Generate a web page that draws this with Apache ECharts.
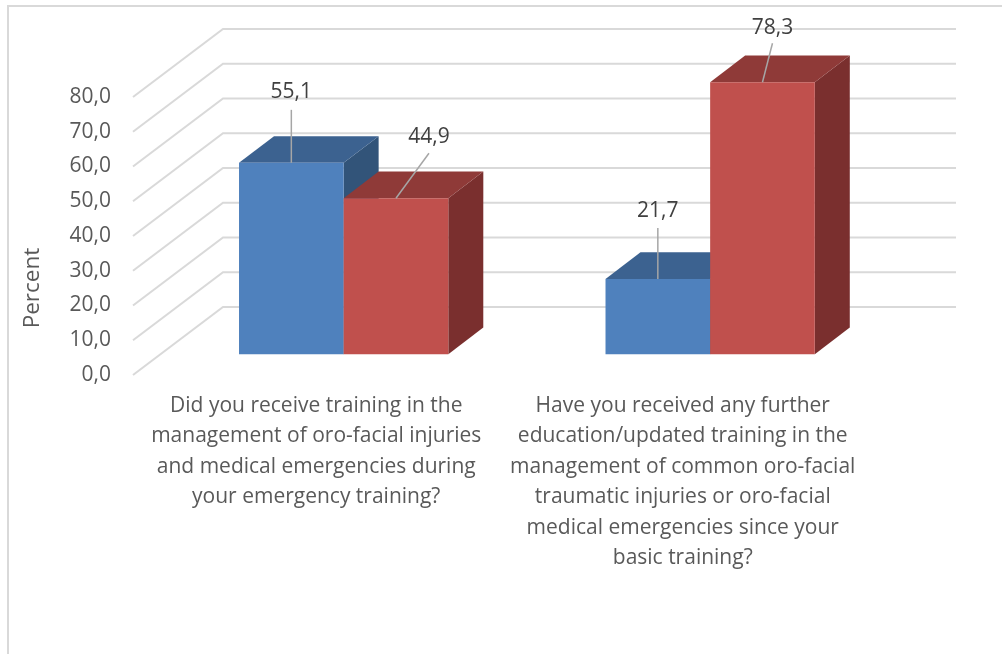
<!DOCTYPE html>
<html>
<head>
<meta charset="utf-8">
<title>Training chart</title>
<script src="https://cdn.jsdelivr.net/npm/echarts@6/dist/echarts.min.js"></script>
<style>
html, body { margin: 0; padding: 0; background: #fff; }
#main { width: 1002px; height: 654px; }
</style>
</head>
<body>
<div id="main"></div>
<script>
var categories = [
	'Did you receive training in the\nmanagement of oro-facial injuries\nand medical emergencies during\nyour emergency training?',
	'Have you received any further\neducation/updated training in the\nmanagement of common oro-facial\ntraumatic injuries or oro-facial\nmedical emergencies since your\nbasic training?'
];
var yesValues = [55.1, 21.7];
var noValues = [44.9, 78.3];
var yTicks = [0, 10, 20, 30, 40, 50, 60, 70, 80];

// pixel offsets for the fake 3d look
var wallDepth = [90, -68];
var barFloor = [27.4, -20.7];
var barDepth = [35, -26.7];
var barShare = 0.2855;
var fontName = '"Open Sans", sans-serif';

// label centre relative to the top middle of the bar's front face
var yesLabelOffset = [[0, -71, -53], [0, -68, -51]];
var noLabelOffset = [[33, -61, -45], [10, -54, -39]];

function fmt(v) {
	return v.toFixed(1).replace('.', ',');
}

function poly(points, color) {
	return { type: 'polygon', shape: { points: points }, style: { fill: color } };
}

function barSeries(values, side, colors) {
	return {
		type: 'custom',
		coordinateSystem: 'cartesian2d',
		z: 3,
		silent: true,
		data: values.map(function (v, i) { return [i, v]; }),
		renderItem: function (params, api) {
			var w = api.size([1, 0])[0] * barShare;
			var top = api.coord([api.value(0), api.value(1)]);
			var base = api.coord([api.value(0), 0]);
			var x0 = top[0] + barFloor[0] + (side === 0 ? -w : 0);
			var x1 = x0 + w;
			var y0 = top[1] + barFloor[1];
			var y1 = base[1] + barFloor[1];
			var dx = barDepth[0], dy = barDepth[1];
			return {
				type: 'group',
				children: [
					poly([[x1, y0], [x1 + dx, y0 + dy], [x1 + dx, y1 + dy], [x1, y1]], colors[2]),
					poly([[x0, y0], [x0 + dx, y0 + dy], [x1 + dx, y0 + dy], [x1, y0]], colors[1]),
					poly([[x0, y0], [x1, y0], [x1, y1], [x0, y1]], colors[0])
				]
			};
		}
	};
}

function labelSeries(values, side, offsets) {
	return {
		type: 'custom',
		coordinateSystem: 'cartesian2d',
		z: 5,
		silent: true,
		data: values.map(function (v, i) { return [i, v]; }),
		renderItem: function (params, api) {
			var w = api.size([1, 0])[0] * barShare;
			var top = api.coord([api.value(0), api.value(1)]);
			var ax = top[0] + barFloor[0] + (side === 0 ? -w / 2 : w / 2);
			var ay = top[1] + barFloor[1];
			var off = offsets[params.dataIndex];
			return {
				type: 'group',
				children: [
					{
						type: 'line',
						shape: { x1: ax + off[0], y1: ay + off[2], x2: ax, y2: ay },
						style: { stroke: '#a6a6a6', lineWidth: 1.5 }
					},
					{
						type: 'text',
						style: {
							x: ax + off[0],
							y: ay + off[1],
							text: fmt(api.value(1)),
							align: 'center',
							verticalAlign: 'middle',
							font: '21px ' + fontName,
							fill: '#404040'
						}
					}
				]
			};
		}
	};
}

var wallSeries = {
	type: 'custom',
	coordinateSystem: 'cartesian2d',
	z: 1,
	silent: true,
	data: yTicks.map(function (t) { return [0, t]; }),
	renderItem: function (params, api) {
		var y = api.coord([0, api.value(1)])[1];
		var left = params.coordSys.x;
		var right = left + params.coordSys.width;
		return {
			type: 'polyline',
			shape: {
				points: [
					[left, y],
					[left + wallDepth[0], y + wallDepth[1]],
					[right + wallDepth[0], y + wallDepth[1]]
				]
			},
			style: { fill: 'none', stroke: '#d9d9d9', lineWidth: 2 }
		};
	}
};

var myChart = echarts.init(document.getElementById('main'));
myChart.setOption({
	animation: false,
	backgroundColor: '#ffffff',
	grid: { left: 133, right: 136, top: 97, bottom: 279, containLabel: false },
	graphic: [
		{
			type: 'polyline',
			silent: true,
			shape: { points: [[8, 654], [8, 6], [1002, 6]] },
			style: { fill: 'none', stroke: '#d9d9d9', lineWidth: 2 }
		},
		{
			type: 'text',
			silent: true,
			x: 33,
			y: 288,
			rotation: Math.PI / 2,
			style: {
				text: 'Percent',
				align: 'center',
				verticalAlign: 'middle',
				font: '22.5px ' + fontName,
				fill: '#595959'
			}
		}
	],
	xAxis: {
		type: 'category',
		data: categories,
		axisLine: { show: false },
		axisTick: { show: false },
		axisLabel: {
			interval: 0,
			margin: 15.5,
			color: '#595959',
			fontFamily: fontName,
			fontSize: 21,
			lineHeight: 30.5,
			align: 'center',
			verticalAlign: 'top'
		}
	},
	yAxis: {
		type: 'value',
		min: 0,
		max: 80,
		interval: 10,
		axisLine: { show: false },
		axisTick: { show: false },
		splitLine: { show: false },
		axisLabel: {
			margin: 22,
			padding: [2, 0, 0, 0],
			color: '#595959',
			fontFamily: fontName,
			fontSize: 21,
			formatter: function (v) { return fmt(v); }
		}
	},
	series: [
		wallSeries,
		barSeries(yesValues, 0, ['#4f81bd', '#3c6290', '#325479']),
		barSeries(noValues, 1, ['#c0504d', '#8f3a38', '#7a2f2e']),
		labelSeries(yesValues, 0, yesLabelOffset),
		labelSeries(noValues, 1, noLabelOffset)
	]
});
</script>
</body>
</html>
